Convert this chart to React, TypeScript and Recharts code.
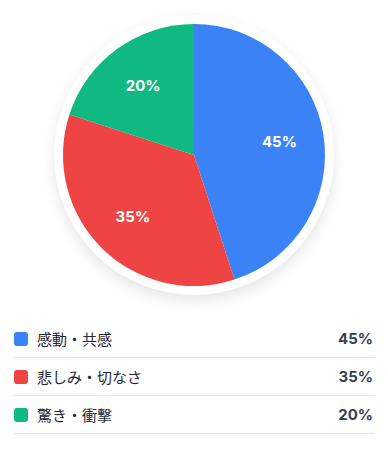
import { Cell, Pie, PieChart } from "recharts";

const categories = ["感動・共感", "悲しみ・切なさ", "驚き・衝撃"];
const shares = [45, 35, 20];
const colors = ["#3b82f6", "#ef4444", "#10b981"];

const data = categories.map((name, i) => ({ name, value: shares[i] }));

const RADIAN = Math.PI / 180;
const CX = 186;
const CY = 147;
const R = 131;

function renderLabel(props: any) {
  const { cx, cy, midAngle, outerRadius, value } = props;
  const r = outerRadius * 0.66;
  const x = cx + r * Math.cos(-midAngle * RADIAN);
  const y = cy + r * Math.sin(-midAngle * RADIAN);
  return (
    <text
      x={x}
      y={y}
      fill="#fff"
      textAnchor="middle"
      dominantBaseline="central"
      fontSize={15}
      fontWeight={700}
      fontFamily="Inter, 'Noto Sans', sans-serif"
    >
      {value}%
    </text>
  );
}

export default function App() {
  return (
    <div style={{ width: 372, fontFamily: "Inter, 'Noto Sans CJK JP', sans-serif" }}>
      <div style={{ position: "relative", width: 372, height: 300 }}>
        <div
          style={{
            position: "absolute",
            left: CX - R - 9,
            top: CY - R - 9,
            width: (R + 9) * 2,
            height: (R + 9) * 2,
            borderRadius: "50%",
            background: "#fff",
            boxShadow: "0 6px 14px rgba(0,0,0,0.10)",
          }}
        />
        <div style={{ position: "absolute", left: 0, top: 0 }}>
          <PieChart width={372} height={300} margin={{ top: 0, right: 0, bottom: 0, left: 0 }}>
            <Pie
              data={data}
              dataKey="value"
              nameKey="name"
              cx={CX}
              cy={CY}
              outerRadius={R}
              startAngle={90}
              endAngle={-270}
              stroke="none"
              labelLine={false}
              label={renderLabel}
              isAnimationActive={false}
            >
              {data.map((d, i) => (
                <Cell key={d.name} fill={colors[i]} />
              ))}
            </Pie>
          </PieChart>
        </div>
      </div>
      <div style={{ marginTop: 12, padding: "0 5px" }}>
        {data.map((d, i) => (
          <div
            key={d.name}
            style={{
              display: "flex",
              alignItems: "center",
              height: 37,
              borderBottom: "1px solid #e5e7eb",
            }}
          >
            <span
              style={{
                width: 14,
                height: 14,
                borderRadius: 3,
                background: colors[i],
                marginLeft: 1,
                marginRight: 9,
              }}
            />
            <span
              style={{
                flex: 1,
                fontSize: 15,
                color: "#1f2937",
                fontFamily: "'Noto Sans CJK JP', sans-serif",
              }}
            >
              {d.name}
            </span>
            <span style={{ fontSize: 15, fontWeight: 700, color: "#374151", marginRight: 2 }}>
              {d.value}%
            </span>
          </div>
        ))}
      </div>
    </div>
  );
}
